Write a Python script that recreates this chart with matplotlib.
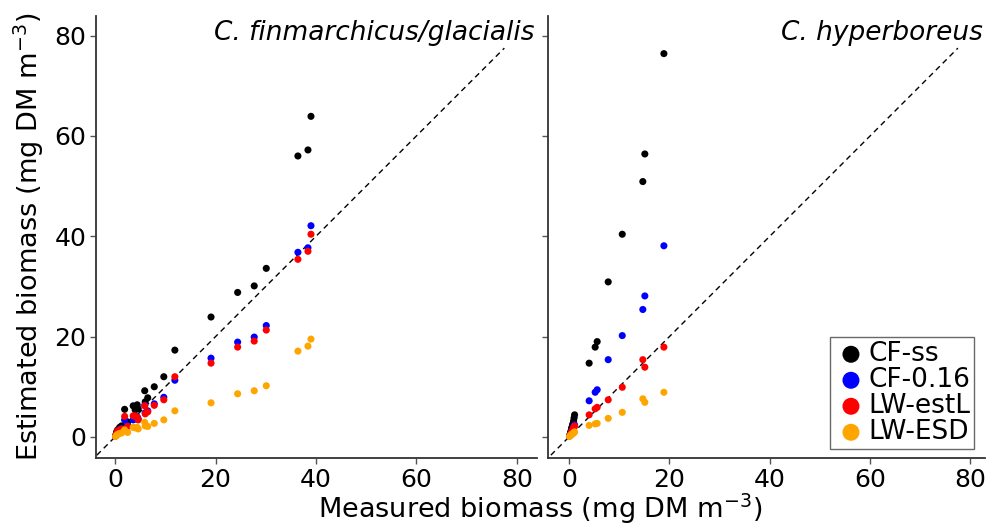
import matplotlib
matplotlib.use("Agg")
import matplotlib.pyplot as plt

# C. finmarchicus/glacialis: measured vs estimated biomass (mg DM m-3)
fin_measured = [0.1, 0.3, 0.5, 0.9, 1.3, 1.9, 2.5, 3.6, 4.0, 4.4, 4.6, 5.9,
                6.0, 6.5, 7.8, 9.7, 11.9, 19.1, 24.4, 27.7, 30.1, 36.4, 38.4, 39.0]
fin_cf_ss = [0.3, 1.0, 1.4, 1.9, 2.2, 5.5, 3.0, 6.2, 5.4, 6.4, 5.6, 9.2,
             7.0, 7.8, 10.0, 12.0, 17.3, 23.9, 28.8, 30.1, 33.6, 56.0, 57.2, 63.9]
fin_cf_016 = [0.2, 0.7, 1.0, 1.5, 1.7, 3.4, 2.3, 3.4, 3.6, 4.0, 3.6, 6.3,
              4.8, 5.2, 6.6, 7.9, 11.3, 15.7, 18.9, 19.9, 22.2, 36.8, 37.7, 42.1]
fin_lw_estl = [0.2, 0.7, 1.2, 1.4, 1.6, 4.1, 2.1, 4.2, 4.2, 3.9, 3.4, 6.2,
               4.6, 5.0, 6.3, 7.4, 12.0, 14.7, 17.9, 19.1, 21.3, 35.4, 37.0, 40.4]
fin_lw_esd = [0.1, 0.3, 0.5, 0.7, 0.8, 1.4, 0.9, 1.9, 1.8, 1.9, 1.6, 2.9,
              2.2, 2.1, 2.7, 3.4, 5.2, 6.8, 8.6, 9.2, 10.2, 17.1, 18.1, 19.5]

# C. hyperboreus
hyp_measured = [0.1, 0.3, 0.5, 0.7, 0.9, 1.0, 1.1, 4.0, 5.2, 5.6, 7.8, 10.6,
                14.7, 15.1, 18.9]
hyp_cf_ss = [0.3, 1.0, 1.8, 2.5, 3.2, 3.8, 4.4, 14.7, 17.9, 19.0, 30.9, 40.4,
             50.9, 56.4, 76.4]
hyp_cf_016 = [0.2, 0.6, 1.1, 1.5, 1.9, 2.2, 2.4, 7.2, 8.9, 9.4, 15.4, 20.2,
              25.4, 28.1, 38.1]
hyp_lw_estl = [0.2, 0.6, 1.0, 1.4, 1.8, 2.0, 2.2, 4.4, 5.6, 5.9, 7.4, 9.9,
               15.4, 13.9, 17.9]
hyp_lw_esd = [0.1, 0.3, 0.5, 0.6, 0.8, 0.9, 1.0, 2.3, 2.6, 2.7, 3.7, 4.9,
              7.6, 6.9, 8.9]

labels = ["CF-ss", "CF-0.16", "LW-estL", "LW-ESD"]
colors = ["black", "#0000ff", "#ff0000", "#ffa500"]

fig = plt.figure(figsize=(9.88, 5.29), dpi=100)
ax1 = fig.add_axes([96 / 988, 71 / 529, 441 / 988, 442 / 529])
ax2 = fig.add_axes([548 / 988, 71 / 529, 437 / 988, 442 / 529])

panels = [
    (ax1, fin_measured, [fin_cf_ss, fin_cf_016, fin_lw_estl, fin_lw_esd],
     "C. finmarchicus/glacialis", (-3.8, 84.0)),
    (ax2, hyp_measured, [hyp_cf_ss, hyp_cf_016, hyp_lw_estl, hyp_lw_esd],
     "C. hyperboreus", (-4.2, 82.9)),
]

for ax, xs, series, title, xlim in panels:
    ax.plot([-5, 77.5], [-5, 77.5], color="black", ls=(0, (4, 3)), lw=1, zorder=1)
    for ys, lab, col in zip(series, labels, colors):
        ax.scatter(xs, ys, s=26, color=col, label=lab, edgecolors="none", zorder=3)
    ax.set_xlim(*xlim)
    ax.set_ylim(-4.2, 83.9)
    ax.set_xticks([0, 20, 40, 60, 80])
    ax.set_yticks([0, 20, 40, 60, 80])
    for side in ["top", "right"]:
        ax.spines[side].set_visible(False)
    for side in ["left", "bottom"]:
        ax.spines[side].set_color("#333333")
        ax.spines[side].set_linewidth(1.3)
    ax.tick_params(axis="both", labelsize=18, length=4, width=1, color="#555555",
                   labelcolor="black", pad=3)
    ax.text(0.995, 0.99, title, transform=ax.transAxes, ha="right", va="top",
            fontsize=19, style="italic")

ax2.tick_params(axis="y", labelleft=False)

leg = ax2.legend(loc="lower right", bbox_to_anchor=(0.975, 0.02), fontsize=19,
                 frameon=True, fancybox=False, handletextpad=0.0,
                 borderpad=0.15, labelspacing=0.0, markerscale=2.4,
                 handlelength=1.3, borderaxespad=0)
leg.get_frame().set_edgecolor("#444444")
leg.get_frame().set_linewidth(1)

ax1.set_ylabel(r"Estimated biomass (mg DM m$^{-3}$)", fontsize=19.5, labelpad=6)
fig.text(0.547, 0.005, r"Measured biomass (mg DM m$^{-3}$)", ha="center",
         va="bottom", fontsize=19.5)

fig.savefig("out.png", dpi=100)
